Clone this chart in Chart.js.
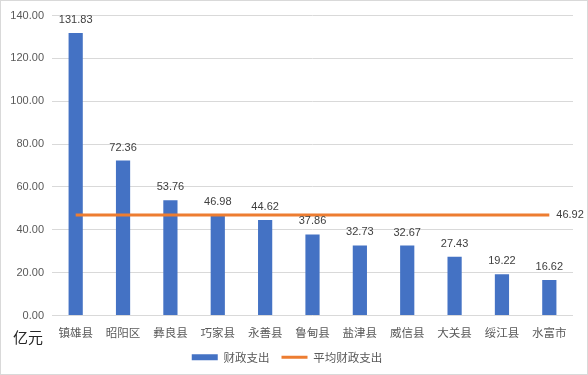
<!DOCTYPE html>
<html>
<head>
<meta charset="utf-8">
<script src="https://cdn.jsdelivr.net/npm/chart.js@4"></script>
<style>
  body { margin: 0; background: #fff; }
  #wrap { width: 586px; height: 373px; border: 1px solid #d9d9d9; }
</style>
</head>
<body>
<div id="wrap"><canvas id="myChart" width="586" height="373"></canvas></div>
<script>
// 数据
const counties = ['镇雄县', '昭阳区', '彝良县', '巧家县', '永善县', '鲁甸县', '盐津县', '威信县', '大关县', '绥江县', '水富市'];
const spending = [131.83, 72.36, 53.76, 46.98, 44.62, 37.86, 32.73, 32.67, 27.43, 19.22, 16.62];
const avgSpending = 46.92;
const avgLine = counties.map(() => avgSpending);
const yTicks = [0, 20, 40, 60, 80, 100, 120, 140];

const fontFamily = '"Liberation Sans", Arial, "Noto Sans CJK SC", sans-serif';
const cjkFont = '"Noto Sans CJK SC", "Liberation Sans", sans-serif';

// 数据标签 + 单位
const labelsPlugin = {
  id: 'labels',
  afterDatasetsDraw(chart) {
    const ctx = chart.ctx;
    ctx.save();
    ctx.fillStyle = '#404040';
    ctx.font = '11px ' + fontFamily;
    ctx.textAlign = 'center';
    ctx.textBaseline = 'middle';
    chart.getDatasetMeta(0).data.forEach((bar, i) => {
      ctx.fillText(spending[i].toFixed(2), bar.x, bar.y - 13);
    });
    const pts = chart.getDatasetMeta(1).data;
    const last = pts[pts.length - 1];
    ctx.textAlign = 'left';
    ctx.fillText(avgSpending.toFixed(2), last.x + 7, last.y);
    // 亿元
    ctx.fillStyle = '#262626';
    ctx.font = '15px ' + cjkFont;
    ctx.fillText('亿元', 12, chart.chartArea.bottom + 22);
    ctx.restore();
  }
};

new Chart(document.getElementById('myChart'), {
  data: {
    labels: counties,
    datasets: [
      {
        type: 'bar',
        label: '财政支出',
        data: spending,
        backgroundColor: '#4472C4',
        borderWidth: 0,
        barPercentage: 0.3,
        categoryPercentage: 1,
        order: 2
      },
      {
        type: 'line',
        label: '平均财政支出',
        data: avgLine,
        borderColor: '#ED7D31',
        backgroundColor: '#ED7D31',
        borderWidth: 3,
        pointRadius: 0,
        order: 1
      }
    ]
  },
  options: {
    responsive: false,
    animation: false,
    layout: { padding: { top: 13, right: 14, left: 0, bottom: 1 } },
    scales: {
      x: {
        afterFit(scale) { scale.height = 24; },
        grid: { display: false },
        border: { display: false },
        ticks: { color: '#595959', font: { family: cjkFont, size: 11.5 }, padding: 2, maxRotation: 0 }
      },
      y: {
        min: 0,
        max: 140,
        afterBuildTicks(scale) { scale.ticks = yTicks.map(v => ({ value: v })); },
        afterFit(scale) { scale.width = 51; },
        grid: { color: '#d9d9d9', drawTicks: false },
        border: { display: false },
        ticks: {
          color: '#595959',
          font: { family: fontFamily, size: 11 },
          padding: 8,
          callback: v => Number(v).toFixed(2)
        }
      }
    },
    plugins: {
      tooltip: { enabled: false },
      legend: {
        position: 'bottom',
        labels: {
          color: '#595959',
          font: { family: cjkFont, size: 11.5 },
          usePointStyle: true,
          pointStyleWidth: 26,
          boxHeight: 6,
          padding: 12,
          sort: (a, b) => a.datasetIndex - b.datasetIndex,
          generateLabels(chart) {
            const items = Chart.defaults.plugins.legend.labels.generateLabels(chart);
            items.forEach(it => {
              if (it.datasetIndex === 0) {
                it.pointStyle = 'rect';
                it.lineWidth = 0;
                it.fillStyle = '#4472C4';
              } else {
                it.pointStyle = 'line';
                it.lineWidth = 3;
                it.strokeStyle = '#ED7D31';
              }
            });
            return items;
          }
        }
      }
    }
  },
  plugins: [labelsPlugin]
});
</script>
</body>
</html>
